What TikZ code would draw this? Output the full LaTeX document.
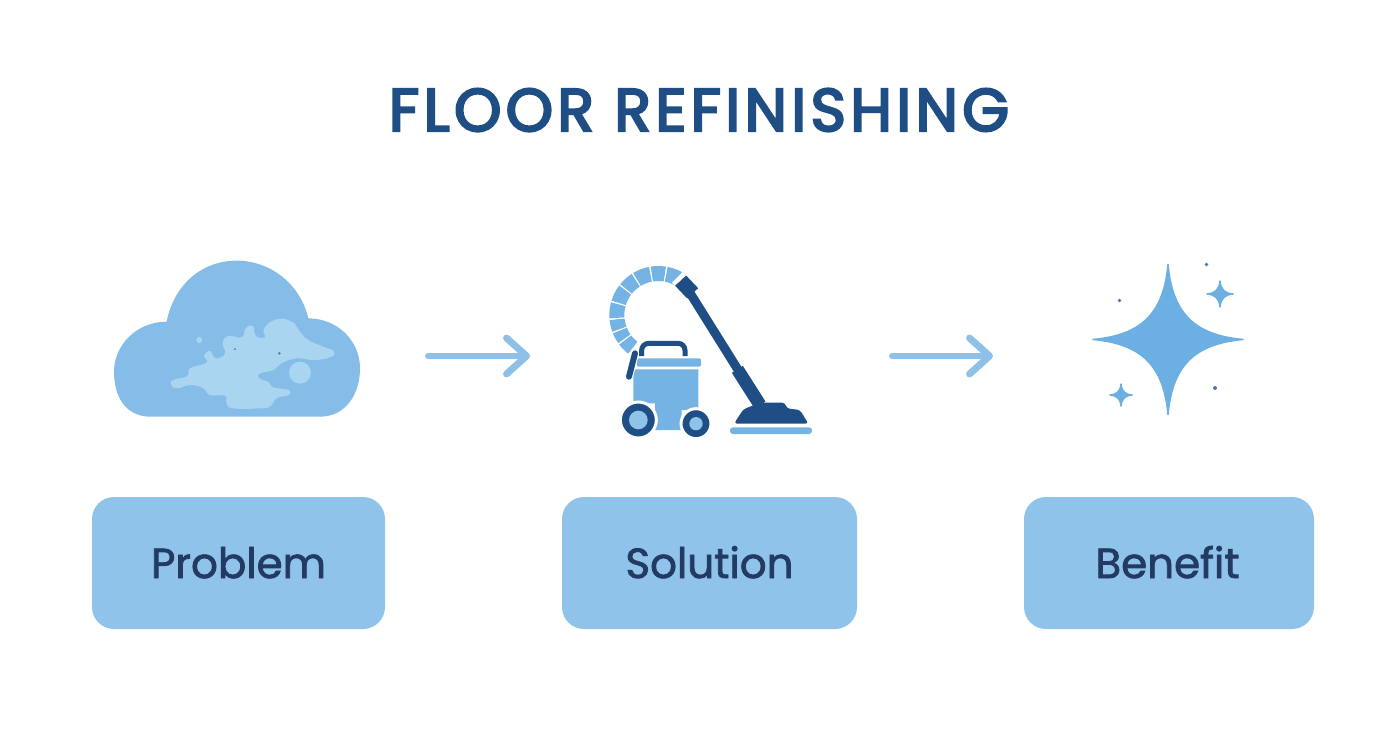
\documentclass[tikz,border=0pt]{standalone}
\usepackage{fontspec}
\usepackage{xcolor}
\usetikzlibrary{arrows.meta}
\newfontfamily\titlefont[LetterSpace=7.5,FakeBold=4]{Poppins}
\newfontfamily\labelfont[FakeBold=1.8]{Poppins}
\definecolor{navy}{HTML}{1F4E85}
\definecolor{inktext}{HTML}{233A63}
\definecolor{boxblue}{HTML}{8FC3EA}
\definecolor{cloudblue}{HTML}{85BDE8}
\definecolor{hazeblue}{HTML}{A9D5F1}
\definecolor{midblue}{HTML}{74B3E4}
\definecolor{starblue}{HTML}{6CB0E3}
\definecolor{arrowblue}{HTML}{8DC1E8}
\definecolor{speck}{HTML}{4A78AE}
\newcommand{\sparkle}[3]{\filldraw[starblue, line width=1.5pt, line join=round]
  (#1,#2-#3) .. controls (#1+.06*#3,#2-.35*#3) and (#1+.35*#3,#2-.06*#3) .. (#1+#3,#2)
  .. controls (#1+.35*#3,#2+.06*#3) and (#1+.06*#3,#2+.35*#3) .. (#1,#2+#3)
  .. controls (#1-.06*#3,#2+.35*#3) and (#1-.35*#3,#2+.06*#3) .. (#1-#3,#2)
  .. controls (#1-.35*#3,#2-.06*#3) and (#1-.06*#3,#2-.35*#3) .. (#1,#2-#3) -- cycle;}
\begin{document}
\begin{tikzpicture}[x=1pt, y=-1pt,
        box/.style = {shape=rectangle, rounded corners=22pt,
          fill=boxblue, align=center, text=inktext,
          font=\labelfont\fontsize{42}{42}\selectfont},
        flow/.style = {draw=arrowblue, line width=6pt, line cap=round,
          -{Straight Barb[length=20pt, width=36pt, line width=7pt, round]}},
        zoomed/.style = {x=1/3*1pt, y=-1/3*1pt}]
        \useasboundingbox (0,0) rectangle (1392,752);
        \node[text=navy, font=\titlefont\fontsize{60}{60}\selectfont] (title) at (699,110) {FLOOR REFINISHING};

        \node[box, minimum width=293pt, minimum height=132pt, text depth=0pt, text height=30pt] (problem) at (238.5,563) {Problem};
        \node[box, minimum width=295pt, minimum height=132pt, text depth=0pt, text height=30pt] (solution) at (709.5,563) {Solution};
        \node[box, minimum width=290pt, minimum height=132pt, text depth=0pt, text height=30pt] (benefit) at (1169,563) {\hspace{-3pt}Benefit};

        \coordinate (flowa) at (428,356);
        \coordinate (flowb) at (530,356);
        \coordinate (flowc) at (892,356);
        \coordinate (flowd) at (993,356);
        \draw[flow] (flowa) -- (flowb);
        \draw[flow] (flowc) -- (flowd);

        % cloud
        \begin{scope}[shift={(100,250)}, zoomed]
          \fill[cloudblue] (150,500) -- (660,500)
            .. controls (735,500) and (780,435) .. (780,355)
            .. controls (780,270) and (710,205) .. (625,205)
            .. controls (600,100) and (510,32) .. (410,32)
            .. controls (300,32) and (220,110) .. (200,215)
            .. controls (110,215) and (42,285) .. (42,365)
            .. controls (42,450) and (85,500) .. (150,500) -- cycle;
          \fill[hazeblue] plot[smooth cycle, tension=.8] coordinates {(212,400) (225,388) (262,378) (270,355) (320,338) (312,318) (330,303) (347,325) (375,310) (368,280) (385,258) (425,262) (437,235) (458,228) (468,258) (495,262) (492,235) (530,208) (575,215) (600,245) (625,270) (670,290) (703,305) (690,322) (640,330) (590,325) (545,340) (520,360) (480,370) (478,385) (505,395) (520,412) (565,420) (565,435) (530,445) (510,470) (480,475) (400,475) (380,460) (375,437) (330,435) (310,415) (270,405) (230,415)};
          \fill[hazeblue] (600,368) circle (33);
          \fill[hazeblue] (298,270) circle (9);
          \fill[speck] (405,297) circle (3) (538,310) circle (4);
        \end{scope}

        % vacuum
        \begin{scope}[shift={(590,250)}, zoomed]
          \foreach \from/\to in {59/79, 81/99, 101/121, 123/141, 143/163, 165/184, 186/200, 202/215, 217/232}
            \fill[midblue] (205,195) ++(-\from:147) arc (-\from:-\to:147) -- ++(-\to+180:45) arc (-\to:-\from:102) -- cycle;
          \fill[midblue] (130,358) -- (325,358) -- (325,480) -- (275,480) -- (275,540) -- (195,540) -- (195,460) -- (130,460) -- cycle;
          \fill[midblue, rounded corners=2pt] (140,325) rectangle (333,350);
          \draw[navy, line width=5pt, rounded corners=7pt] (155,318) -- (155,280) -- (285,280) -- (285,318);
          \draw[white, line width=8pt, line cap=round] (135,310) -- (117,380);
          \draw[navy, line width=6pt, line cap=round] (135,310) -- (117,380);
          \filldraw[navy, draw=white, line width=3pt] (145,510) circle (54);
          \fill[boxblue] (145,510) circle (28);
          \filldraw[navy, draw=white, line width=3pt] (318,521) circle (45);
          \fill[boxblue] (318,521) circle (20);
          \draw[navy, line width=9pt] (285,105) -- (510,465);
          \draw[white, line width=15pt] (262,82) -- (270,90);
          \draw[navy, line width=15pt] (272,92) -- (308,130);
          \draw[navy, line width=13pt] (442,358) -- (510,465);
          \fill[navy, rounded corners=3pt] (432,521) -- (655,521) -- (630,480) -- (590,475) -- (585,458) -- (510,458) -- (460,478) -- cycle;
          \fill[midblue, rounded corners=3pt] (420,532) rectangle (666,552);
        \end{scope}

        % sparkles
        \sparkle{1168}{339.5}{75}
        \sparkle{1220}{294}{13}
        \sparkle{1121}{395}{11}
        \fill[speck] (1206.5,264.5) circle (1.8) (1119.5,300.5) circle (1.8) (1215,388) circle (2);
      \end{tikzpicture}
\end{document}
